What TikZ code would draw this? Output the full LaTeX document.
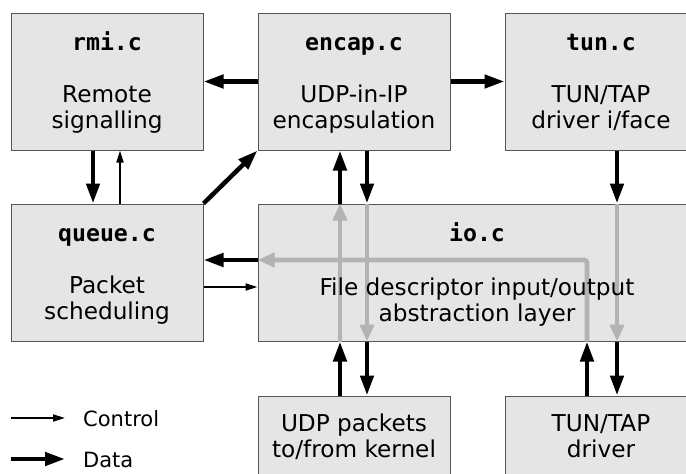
\documentclass[tikz,border=0pt]{standalone}
\usepackage{fontspec}
\setmainfont{DejaVu Sans}
\setmonofont{DejaVu Sans Mono}
\usetikzlibrary{arrows.meta}
\definecolor{boxfill}{HTML}{E5E5E5}
\definecolor{boxline}{HTML}{555555}
\definecolor{flow}{HTML}{B3B3B3}
\tikzset{
  blk/.style={draw=boxline, line width=1pt, fill=boxfill, rectangle, minimum width=192pt, minimum height=137pt, inner sep=0pt},
  ttl/.style={anchor=base, inner sep=0pt, font=\fontsize{23.2}{27}\selectfont\ttfamily\bfseries},
  txt/.style={anchor=base, inner sep=0pt, font=\fontsize{23.2}{27}\selectfont},
  lgd/.style={anchor=base west, inner sep=0pt, font=\fontsize{21}{25}\selectfont},
  data/.style={line width=4.5pt, -{Triangle[length=20pt,width=13pt]}},
  ctrl/.style={line width=1.8pt, -{Triangle[length=12pt,width=7pt]}},
  graw/.style={draw=flow, line width=4.8pt, rounded corners=3pt, -{Triangle[length=17pt,width=14pt]}}
}
\begin{document}
\begin{tikzpicture}[x=1pt,y=-1pt]
\useasboundingbox (0,0) rectangle (686,474);
\clip (0,0) rectangle (686,474);
% boxes
\node[blk] (rmi) at (107,81.5) {};
\node[blk] (encap) at (354,81.5) {};
\node[blk] (tun) at (601,81.5) {};
\node[blk] (queue) at (107,272.5) {};
\node[blk, minimum width=438pt] (io) at (477,272.5) {};
\node[blk] (udp) at (354,464.5) {};
\node[blk] (drv) at (601,464.5) {};
% helper coordinates
\coordinate (eL) at ([xshift=-14pt]encap.south);
\coordinate (eR) at ([xshift=13pt]encap.south);
\coordinate (tL) at ([xshift=-14pt]tun.south);
\coordinate (tR) at ([xshift=16pt]tun.south);
\coordinate (rL) at ([xshift=-14pt]rmi.south);
\coordinate (rR) at ([xshift=13pt]rmi.south);
\coordinate (qD) at ([yshift=12.5pt]queue.east);
\coordinate (qC) at ([yshift=-14.5pt]queue.east);
\coordinate (bend) at (tL |- qD);
% gray flows inside io
\draw[graw] (eL |- io.south) -- (eL |- io.north);
\draw[graw] (eR |- io.north) -- (eR |- io.south);
\draw[graw] (tR |- io.north) -- (tR |- io.south);
\draw[graw] (tL |- io.south) -- (bend) -- (io.west |- qD);
% data arrows
\draw[data] (encap.west) -- (rmi.east);
\draw[data] (encap.east) -- (tun.west);
\draw[data] (rL) -- (rL |- queue.north);
\draw[ctrl] (rR |- queue.north) -- (rR);
\draw[data] (queue.north east) -- (encap.south west);
\draw[data] (eL |- io.north) -- (eL);
\draw[data] (eR) -- (eR |- io.north);
\draw[data] (tR) -- (tR |- io.north);
\draw[data] (io.west |- qD) -- (qD);
\draw[ctrl] (qC) -- (io.west |- qC);
\draw[data] (eL |- udp.north) -- (eL |- io.south);
\draw[data] (eR |- io.south) -- (eR |- udp.north);
\draw[data] (tL |- drv.north) -- (tL |- io.south);
\draw[data] (tR |- io.south) -- (tR |- drv.north);
% texts
\node[ttl] (rmiT) at (107,50) {rmi.c};
\node[txt] (rmiA) at (107,102) {Remote};
\node[txt] (rmiB) at (107,128) {signalling};
\node[ttl] (encT) at (354,50) {encap.c};
\node[txt] (encA) at (354,102) {UDP-in-IP};
\node[txt] (encB) at (354,128) {encapsulation};
\node[ttl] (tunT) at (601,50) {tun.c};
\node[txt] (tunA) at (601,102) {TUN/TAP};
\node[txt] (tunB) at (601,128) {driver i/face};
\node[ttl] (queT) at (107,241) {queue.c};
\node[txt] (queA) at (107,293) {Packet};
\node[txt] (queB) at (107,319) {scheduling};
\node[ttl] (ioT) at (477,241) {io.c};
\node[txt] (ioA) at (477,295) {File descriptor input/output};
\node[txt] (ioB) at (477,321) {abstraction layer};
\node[txt] (udpA) at (354,431) {UDP packets};
\node[txt] (udpB) at (354,457) {to/from kernel};
\node[txt] (drvA) at (601,431) {TUN/TAP};
\node[txt] (drvB) at (601,457) {driver};
% legend
\coordinate (lc1) at (11,418);
\coordinate (lc2) at (65,418);
\coordinate (ld1) at (11,459);
\coordinate (ld2) at (65,459);
\draw[ctrl] (lc1) -- (lc2);
\draw[data] (ld1) -- (ld2);
\node[lgd] (lgC) at (83,426) {Control};
\node[lgd] (lgD) at (83,467) {Data};
\end{tikzpicture}
\end{document}
